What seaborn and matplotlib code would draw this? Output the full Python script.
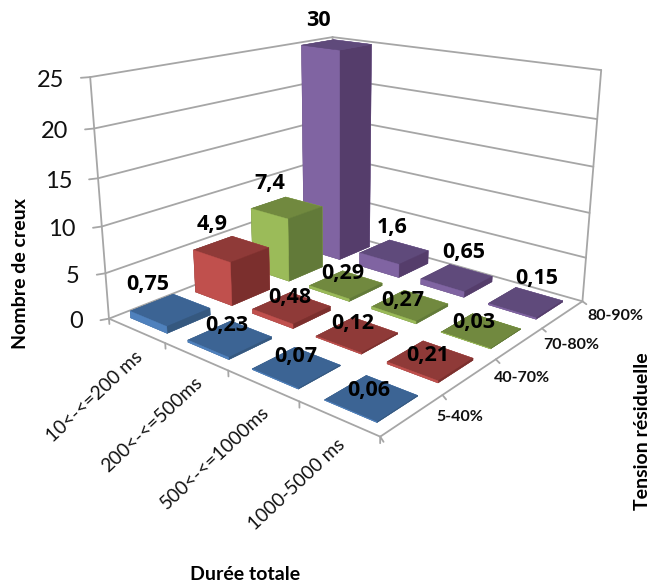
import numpy as np, pandas as pd, matplotlib
matplotlib.use("Agg")
import matplotlib.pyplot as plt
import seaborn as sns
from mpl_toolkits.mplot3d import proj3d

durations = ["10<-<=200 ms", "200<-<=500ms", "500<-<=1000ms", "1000-5000 ms"]
tensions = ["5-40%", "40-70%", "70-80%", "80-90%"]
counts_5_40 = [0.75, 0.23, 0.07, 0.06]
counts_40_70 = [4.9, 0.48, 0.12, 0.21]
counts_70_80 = [7.4, 0.29, 0.27, 0.03]
counts_80_90 = [30, 1.6, 0.65, 0.15]
z_ticks = [0, 5, 10, 15, 20, 25]

# pixel offsets of each value label from the top centre of its bar
label_dx = [[-22, -3, -1, -3], [-19, -2, -4, -3], [-17, -3, -7, -7], [-18, -2, 7, 11]]
label_dy = [[25, 13, 10, 7], [24, 10, 11, 5], [24, 11, 5, 8], [24, 24, 25, 24]]

sns.set_theme(style="white", font="Lato")
plt.rcParams["font.family"] = ["Lato", "DejaVu Sans"]

front_colors = sns.color_palette(["#4F81BD", "#C0504D", "#9BBB59", "#8064A2"])
top_colors = sns.color_palette(["#3C6494", "#8F3A38", "#71893F", "#5F4A7B"])
side_colors = sns.color_palette(["#35587F", "#7B2F2D", "#627A39", "#553D6B"])
GRID = "#A6A6A6"
BAR_W = 0.65
Z_MAX = 25

table = pd.DataFrame([counts_5_40, counts_40_70, counts_70_80, counts_80_90],
                     index=tensions, columns=durations)

W, H = 656, 585
fig = plt.figure(figsize=(W / 100, H / 100), dpi=100)
ax = fig.add_axes([0.1164, 0.1943, 0.8169, 0.9161], projection="3d")
ax.set_xlim(0, 4)
ax.set_ylim(0, 4)
ax.set_zlim(0, Z_MAX)
ax.view_init(elev=17.3843, azim=-50.5414, roll=-0.2116)
ax.set_proj_type("persp", focal_length=0.3343)
ax.set_box_aspect((0.9977, 1, 0.7076))
ax.set_axis_off()
ax.computed_zorder = False
ax.patch.set_alpha(0)


def line(a, b):
    ax.plot(*zip(a, b), color=GRID, lw=1.3, zorder=1)


# walls, floor outline and ticks
for z in z_ticks:
    line((0, 0, z), (0, 4, z))
    line((0, 4, z), (4, 4, z))
    line((0, 0, z), (-0.04, -0.09, z))
line((0, 0, 0), (0, 0, Z_MAX))
line((4, 4, 0), (4, 4, Z_MAX))
line((0, 4, 0), (0, 4, Z_MAX))
line((0, 0, 0), (4, 0, 0))
line((4, 0, 0), (4, 4, 0))
for i in range(5):
    line((i, 0, 0), (i, 0, -0.6))
    line((4, i, 0), (4.077, i - 0.05, 0))


def to2d(x, y, z):
    X, Y, _ = proj3d.proj_transform(x, y, z, ax.get_proj())
    return X, Y


def label(text, pos, offset, **kw):
    ax.annotate(text, xy=to2d(*pos), xycoords="data", xytext=offset,
                textcoords="offset pixels", annotation_clip=False, **kw)


# bars, painted from the back corner towards the viewer; the tallest one
# stops at the top of the value axis
m = (1 - BAR_W) / 2
for j in range(3, -1, -1):
    for i in range(4):
        h = min(table.iloc[j, i], Z_MAX)
        faces = [top_colors[j], top_colors[j], front_colors[j], front_colors[j],
                 side_colors[j], side_colors[j]]
        ax.bar3d(i + m, j + m, 0, BAR_W, BAR_W, h, color=faces, edgecolors=faces,
                 shade=False, zorder=10 + (3 - j) * 4 + i, linewidth=0.3)

for j in range(4):
    for i in range(4):
        v = table.iloc[j, i]
        label(f"{v:g}".replace(".", ","), (i + .5, j + .5, min(v, Z_MAX)),
              (label_dx[j][i], label_dy[j][i]), fontsize=15.5, fontfamily="Open Sans",
              fontweight="bold", ha="center", va="center", color="black", zorder=50)

for z in z_ticks:
    label(str(z), (0, 0, z), (-26, -3), fontsize=17, ha="right", va="center", color="#111111")
for i, d in enumerate(durations):
    label(d, (i + .5, 0, 0), (4, -24), fontsize=13.7, rotation=43, rotation_mode="anchor",
          ha="right", va="center", color="#111111")
for j, t in enumerate(tensions):
    label(t, (4, j + .5, 0), (24, -2), fontsize=11.5, fontweight="bold",
          ha="left", va="center", color="#111111")

title_style = dict(fontsize=14, fontweight="bold", ha="center", va="center", color="black")
fig.text(21 / W, 1 - 274 / H, "Nombre de creux", rotation=90, **title_style)
fig.text(245 / W, 1 - 575 / H, "Durée totale", **title_style)
fig.text(643 / W, 1 - 431 / H, "Tension résiduelle", rotation=90, **title_style)
fig.savefig("out.png", dpi=100)
